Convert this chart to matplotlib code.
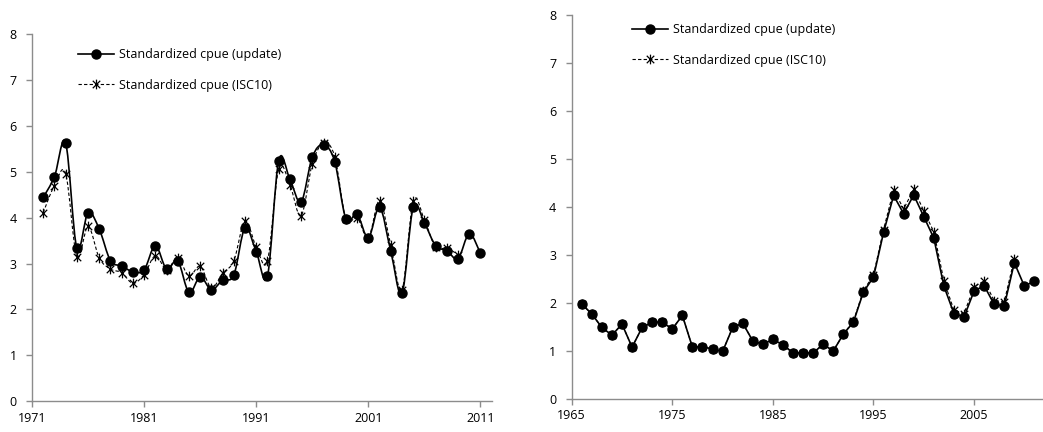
import matplotlib
matplotlib.use("Agg")
import matplotlib.pyplot as plt
from matplotlib.path import Path
from matplotlib.patches import PathPatch

plt.rcParams['font.family'] = ['Open Sans', 'DejaVu Sans']

# left panel
years_l = list(range(1972, 2012))
update_l = [4.44, 4.89, 5.63, 3.33, 4.11, 3.75, 3.06, 2.95, 2.82, 2.86,
            3.39, 2.88, 3.06, 2.37, 2.71, 2.43, 2.64, 2.75, 3.78, 3.26,
            2.72, 5.24, 4.84, 4.34, 5.32, 5.59, 5.22, 3.97, 4.07, 3.56,
            4.23, 3.27, 2.35, 4.23, 3.88, 3.39, 3.28, 3.11, 3.65, 3.22]
years_l_isc = list(range(1972, 2010))
isc10_l = [4.11, 4.70, 4.96, 3.15, 3.81, 3.12, 2.88, 2.80, 2.57, 2.76,
           3.17, 2.87, 3.12, 2.73, 2.94, 2.47, 2.79, 3.06, 3.93, 3.36,
           3.06, 5.06, 4.72, 4.04, 5.17, 5.63, 5.33, 3.97, 4.00, 3.56,
           4.37, 3.40, 2.42, 4.36, 3.95, 3.35, 3.34, 3.19]

# right panel
years_r = list(range(1966, 2012))
update_r = [1.98, 1.77, 1.49, 1.33, 1.56, 1.08, 1.49, 1.60, 1.60, 1.46,
            1.74, 1.08, 1.09, 1.04, 0.99, 1.49, 1.58, 1.21, 1.14, 1.24,
            1.13, 0.96, 0.96, 0.96, 1.14, 1.00, 1.35, 1.60, 2.23, 2.54,
            3.47, 4.24, 3.86, 4.25, 3.80, 3.35, 2.35, 1.78, 1.71, 2.25,
            2.36, 1.97, 1.94, 2.84, 2.35, 2.46]
years_r_isc = list(range(1966, 2010))
isc10_r = [1.98, 1.77, 1.49, 1.33, 1.56, 1.08, 1.49, 1.60, 1.60, 1.46,
           1.74, 1.08, 1.09, 1.04, 0.99, 1.49, 1.58, 1.21, 1.14, 1.24,
           1.13, 0.96, 0.96, 0.96, 1.14, 1.00, 1.35, 1.62, 2.26, 2.58,
           3.53, 4.35, 3.96, 4.37, 3.92, 3.48, 2.46, 1.85, 1.78, 2.34,
           2.46, 2.05, 2.03, 2.92]

legend_labels = ['Standardized cpue (update)', 'Standardized cpue (ISC10)']

# excel-like star marker: x with a vertical bar
star = Path([(-1, -1), (1, 1), (-1, 1), (1, -1), (0, -1.3), (0, 1.3)],
            [Path.MOVETO, Path.LINETO, Path.MOVETO, Path.LINETO, Path.MOVETO, Path.LINETO])


def smooth_path(xs, ys, t=1/6):
    # catmull-rom style bezier through the points (like excel "smoothed line")
    pts = list(zip(xs, ys))
    verts = [pts[0]]
    codes = [Path.MOVETO]
    n = len(pts)
    for i in range(n - 1):
        p0 = pts[i - 1] if i > 0 else pts[i]
        p1 = pts[i]
        p2 = pts[i + 1]
        p3 = pts[i + 2] if i + 2 < n else pts[i + 1]
        c1 = (p1[0] + (p2[0] - p0[0]) * t, p1[1] + (p2[1] - p0[1]) * t)
        c2 = (p2[0] - (p3[0] - p1[0]) * t, p2[1] - (p3[1] - p1[1]) * t)
        verts += [c1, c2, p2]
        codes += [Path.CURVE4] * 3
    return Path(verts, codes)


def draw_panel(ax, xu, yu, xi, yi, smooth, xlim, xticks, legend_anchor):
    if smooth:
        ax.add_patch(PathPatch(smooth_path(xi, yi), fill=False, ec='black',
                               lw=0.8, ls=(0, (3, 2))))
        ax.add_patch(PathPatch(smooth_path(xu, yu), fill=False, ec='black', lw=1.2))
        ax.plot(xu, yu, ls='none', marker='o', ms=6.5, color='black')
        ax.plot(xi, yi, ls='none', marker=star, ms=7, mec='black', mew=0.9)
        h1, = ax.plot([], [], color='black', lw=1.2, marker='o', ms=6.5)
        h2, = ax.plot([], [], color='black', lw=0.8, ls=(0, (3, 2)),
                      marker=star, ms=7, mec='black', mew=0.9)
    else:
        h2, = ax.plot(xi, yi, color='black', lw=0.8, ls=(0, (3, 2)),
                      marker=star, ms=7, mec='black', mew=0.9)
        h1, = ax.plot(xu, yu, color='black', lw=1.2, marker='o', ms=6.5)
    ax.set_xlim(*xlim)
    ax.set_ylim(0, 8)
    ax.set_xticks(xticks)
    ax.set_yticks(range(9))
    for s in ['top', 'right']:
        ax.spines[s].set_visible(False)
    for s in ['left', 'bottom']:
        ax.spines[s].set_color('#8c8c8c')
        ax.spines[s].set_linewidth(1.0)
    ax.tick_params(axis='both', colors='#8c8c8c', labelcolor='black',
                   labelsize=9, length=4, width=1.0, direction='out')
    ax.tick_params(axis='y', pad=7)
    ax.legend([h1, h2], legend_labels, loc='upper left', bbox_to_anchor=legend_anchor,
              frameon=False, fontsize=9, handlelength=2.9, handletextpad=0.4,
              labelspacing=1.4, borderpad=0)


fig = plt.figure(figsize=(10.43, 4.32), dpi=100)
ax1 = fig.add_axes([32 / 1043, 1 - 401.3 / 432, (491.7 - 32) / 1043, (401.3 - 34) / 432])
ax2 = fig.add_axes([571.7 / 1043, 1 - 399 / 432, (1042 - 571.7) / 1043, (399 - 15) / 432])

draw_panel(ax1, years_l, update_l, years_l_isc, isc10_l, True, (1971, 2012),
           [1971, 1981, 1991, 2001, 2011], (0.087, 0.978))
draw_panel(ax2, years_r, update_r, years_r_isc, isc10_r, False, (1965, 2011.75),
           [1965, 1975, 1985, 1995, 2005], (0.115, 0.995))

fig.savefig('out.png', dpi=100)
